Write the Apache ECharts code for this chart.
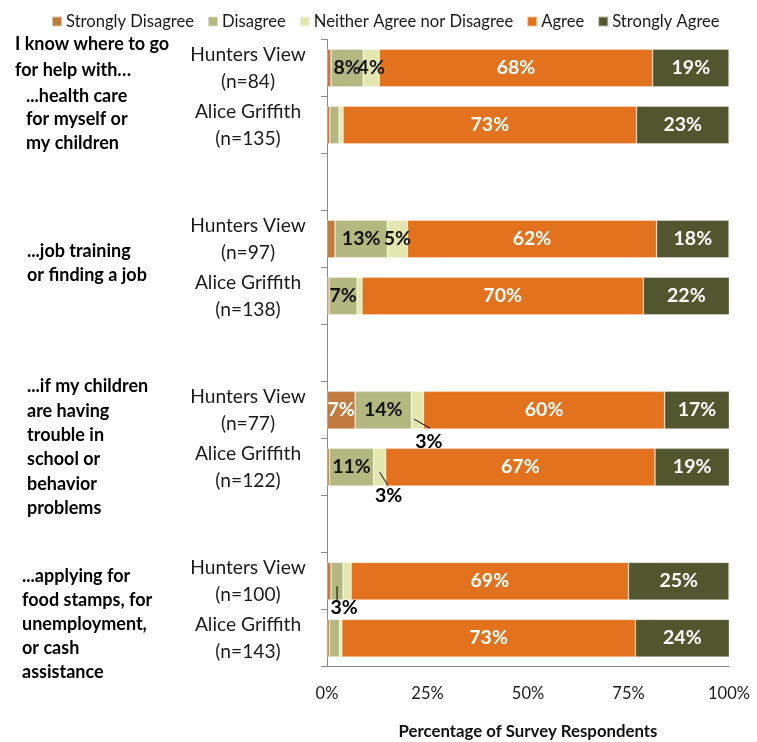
<!DOCTYPE html>
<html>
<head>
<meta charset="utf-8">
<script src="https://cdn.jsdelivr.net/npm/echarts@6/dist/echarts.min.js"></script>
<style>
  html, body { margin: 0; padding: 0; background: #fff; }
  #chart { width: 757px; height: 742px; }
</style>
</head>
<body>
<div id="chart"></div>
<script>
// Rows of the chart, top to bottom; empty rows separate the four questions.
const categories = [
  'Hunters View\n(n=84)', 'Alice Griffith\n(n=135)', '',
  'Hunters View\n(n=97)', 'Alice Griffith\n(n=138)', '',
  'Hunters View\n(n=77)', 'Alice Griffith\n(n=122)', '',
  'Hunters View\n(n=100)', 'Alice Griffith\n(n=143)'
];

const seriesNames = ['Strongly Disagree', 'Disagree', 'Neither Agree nor Disagree', 'Agree', 'Strongly Agree'];

// Percent of respondents per answer
const stronglyDisagree = [1, 0.7, null, 2, 0.5, null, 7, 0.6, null, 1, 0.6];
const disagree         = [8, 2.3, null, 13, 7, null, 14, 11, null, 3, 2.5];
const neither          = [4, 1, null, 5, 1.2, null, 3, 3, null, 2, 0.6];
const agree            = [68, 73, null, 62, 70, null, 60, 67, null, 69, 73];
const stronglyAgree    = [19, 23, null, 18, 22, null, 17, 19, null, 25, 24];

const xTicks = [0, 25, 50, 75, 100];

// Question labels drawn to the left of the rows
const introText = 'I know where to go\nfor help with…';
const questionTexts = [
  '...health care\nfor myself or\nmy children',
  '...job training\nor finding a job',
  '...if my children\nare having\ntrouble in\nschool or\nbehavior\nproblems',
  '...applying for\nfood stamps, for\nunemployment,\nor cash\nassistance'
];

// Small segments whose value is written below the bar with a leader line
const callouts = [
  { row: 6, series: 2 },
  { row: 7, series: 2 },
  { row: 9, series: 1 }
];

const allValues = [stronglyDisagree, disagree, neither, agree, stronglyAgree];
const colors = ['#C17B3F', '#B2B880', '#E3E7AF', '#E2721D', '#52562F'];
const labelColors = ['#ffffff', '#111111', '#111111', '#ffffff', '#ffffff'];
const FONT = 'Lato';

// Leader-line geometry relative to the segment centre
const calloutGeom = [
  { x1: -3.5, y1: 9, x2: 12.5, y2: 18, tx: -1, ty: 14 },
  { x1: 0, y1: 5, x2: 8, y2: 18, tx: 1, ty: 11 },
  { x1: 0, y1: 5, x2: 0, y2: 20, tx: 7, ty: 7 }
];

const calloutData = callouts.map(c => {
  let start = 0;
  for (let s = 0; s < c.series; s++) start += allValues[s][c.row] || 0;
  const v = allValues[c.series][c.row];
  return [start + v / 2, c.row, Math.round(v)];
});

const chart = echarts.init(document.getElementById('chart'), null, { renderer: 'canvas' });

const barSeries = seriesNames.map((name, i) => ({
  name: name,
  type: 'bar',
  stack: 'total',
  barWidth: '66%',
  data: allValues[i],
  itemStyle: { color: colors[i], borderColor: 'rgba(255,255,255,0.55)', borderWidth: 0.6 },
  label: {
    show: true,
    position: 'inside',
    color: labelColors[i],
    fontFamily: FONT,
    fontWeight: 'bold',
    fontSize: 19.5,
    formatter: p => (p.value != null && p.value >= 4) ? Math.round(p.value) + '%' : ''
  },
  emphasis: { disabled: true },
  silent: true
}));

const calloutSeries = {
  type: 'custom',
  name: 'callouts',
  data: calloutData,
  encode: { x: 0, y: 1 },
  clip: false,
  silent: true,
  z: 5,
  renderItem: function (params, api) {
    const c = api.coord([api.value(0), api.value(1)]);
    const g = calloutGeom[params.dataIndex];
    return {
      type: 'group',
      children: [
        {
          type: 'line',
          shape: { x1: c[0] + g.x1, y1: c[1] + g.y1, x2: c[0] + g.x2, y2: c[1] + g.y2 },
          style: { stroke: '#000', lineWidth: 1 }
        },
        {
          type: 'text',
          x: c[0] + g.x2 + g.tx,
          y: c[1] + g.y2 + g.ty,
          style: {
            text: api.value(2) + '%',
            font: 'bold 19.5px ' + FONT,
            fill: '#000',
            align: 'center',
            verticalAlign: 'middle'
          }
        }
      ]
    };
  }
};

const textStyleBold = { font: 'bold 18px ' + FONT, fill: '#000', lineHeight: 24.5 };

chart.setOption({
  animation: false,
  backgroundColor: '#ffffff',
  legend: {
    data: seriesNames,
    left: 46,
    top: 8,
    itemWidth: 10,
    itemHeight: 10,
    itemGap: 13,
    icon: 'rect',
    textStyle: { fontFamily: FONT, fontSize: 16.6, color: '#1a1a1a', padding: [0, 0, 0, -1] }
  },
  grid: {
    left: 327,
    right: 28,
    top: 39.5,
    bottom: 75.3,
    containLabel: false,
    outerBoundsMode: 'none'
  },
  xAxis: {
    type: 'value',
    min: xTicks[0],
    max: xTicks[xTicks.length - 1],
    interval: 25,
    axisLine: { show: true, lineStyle: { color: '#8a8a8a', width: 1 } },
    axisTick: { show: false },
    splitLine: { show: false },
    axisLabel: {
      formatter: '{value}%',
      margin: 18,
      fontFamily: FONT,
      fontSize: 16.5,
      color: '#1a1a1a'
    },
    name: 'Percentage of Survey Respondents',
    nameLocation: 'middle',
    nameGap: 56,
    nameTextStyle: { fontFamily: FONT, fontWeight: 'bold', fontSize: 16.8, color: '#111' }
  },
  yAxis: {
    type: 'category',
    inverse: true,
    data: categories,
    axisLine: { show: true, lineStyle: { color: '#8a8a8a', width: 1 } },
    axisTick: { show: true, length: 6, lineStyle: { color: '#8a8a8a' } },
    axisLabel: {
      margin: 79,
      align: 'center',
      fontFamily: FONT,
      fontSize: 19.2,
      lineHeight: 27,
      color: '#1a1a1a'
    }
  },
  graphic: [
    { type: 'text', left: 15, top: 31, style: Object.assign({ text: introText }, textStyleBold, { lineHeight: 26 }) },
    { type: 'text', left: 26, top: 84, style: Object.assign({ text: questionTexts[0] }, textStyleBold, { lineHeight: 23.5 }) },
    { type: 'text', left: 27, top: 238.5, style: Object.assign({ text: questionTexts[1] }, textStyleBold) },
    { type: 'text', left: 27, top: 374.5, style: Object.assign({ text: questionTexts[2] }, textStyleBold, { lineHeight: 24.3 }) },
    { type: 'text', left: 22, top: 564.5, style: Object.assign({ text: questionTexts[3] }, textStyleBold, { lineHeight: 23.9 }) }
  ],
  series: barSeries.concat([calloutSeries])
});
</script>
</body>
</html>
